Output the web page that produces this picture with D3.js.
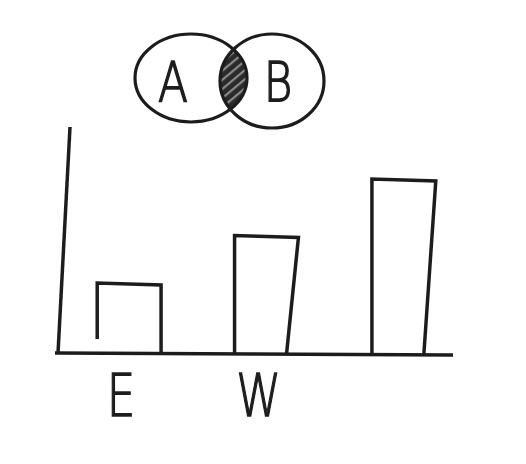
<!DOCTYPE html>
<html>
<head>
<meta charset="utf-8">
<script src="https://cdn.jsdelivr.net/npm/d3@7"></script>
<style>
  body { margin: 0; background: #fff; }
  svg { display: block; }
  .hand { font-family: "DejaVu Sans ExtraLight", "DejaVu Sans", sans-serif; font-weight: 300; }
</style>
</head>
<body>
<script>
// bar categories and heights (rough units)
const categories = ['E', 'W', ''];
const values = [3.1, 5.2, 7.7];
const yMax = 10;

// the little venn diagram above the bars
const sets = ['A', 'B'];

const width = 526;
const height = 464;
const ink = '#1e1e1e';

const svg = d3.select('body')
  .append('svg')
  .attr('width', width)
  .attr('height', height);

const defs = svg.append('defs');

// soft edge, like a scanned pen drawing
defs.append('filter')
  .attr('id', 'soft')
  .append('feGaussianBlur')
  .attr('stdDeviation', 0.7);

// hatching for the overlap
const pat = defs.append('pattern')
  .attr('id', 'hatch')
  .attr('patternUnits', 'userSpaceOnUse')
  .attr('width', 7)
  .attr('height', 7)
  .attr('patternTransform', 'rotate(-40)');
pat.append('rect').attr('width', 7).attr('height', 7).attr('fill', '#2a2a2a');
pat.append('rect').attr('width', 7).attr('height', 2.2).attr('fill', '#8a8a8a');

const g = svg.append('g').attr('filter', 'url(#soft)');

// scales
const x = d3.scaleBand()
  .domain(categories)
  .range([56, 477])
  .paddingInner(0.535)
  .paddingOuter(0.3);

const y = d3.scaleLinear()
  .domain([0, yMax])
  .range([353, 127]);

// venn
const vx = d3.scalePoint().domain(sets).range([191, 272]);
const ell = [{rx: 56, ry: 44, cy: 78}, {rx: 52, ry: 47, cy: 81}];

const clip = defs.append('clipPath').attr('id', 'clipA');
clip.append('ellipse')
  .attr('cx', vx('A')).attr('cy', ell[0].cy)
  .attr('rx', ell[0].rx).attr('ry', ell[0].ry);

g.append('ellipse')
  .attr('cx', vx('B')).attr('cy', ell[1].cy)
  .attr('rx', ell[1].rx).attr('ry', ell[1].ry)
  .attr('clip-path', 'url(#clipA)')
  .attr('fill', 'url(#hatch)');

g.selectAll('.set')
  .data(sets)
  .enter().append('ellipse')
  .attr('class', 'set')
  .attr('cx', d => vx(d))
  .attr('cy', (d, i) => ell[i].cy)
  .attr('rx', (d, i) => ell[i].rx)
  .attr('ry', (d, i) => ell[i].ry)
  .attr('fill', 'none')
  .attr('stroke', ink)
  .attr('stroke-width', 3.2);

g.selectAll('.setlabel')
  .data(sets)
  .enter().append('text')
  .attr('class', 'setlabel hand')
  .attr('transform', (d, i) => `translate(${vx(d) + (i ? 6 : -18)},101) scale(0.78,1)`)
  .attr('text-anchor', 'middle')
  .attr('font-size', 56)
  .attr('fill', ink)
  .attr('stroke', ink)
  .attr('stroke-width', 1.6)
  .text(d => d);

// axes, drawn by hand so they lean a bit
g.append('path')
  .attr('d', `M70,${y(yMax)}L58,${y(0)}`)
  .attr('stroke', ink)
  .attr('stroke-width', 3.5)
  .attr('fill', 'none');

g.append('path')
  .attr('d', `M55,${y(0)}L453,${y(0) + 2}`)
  .attr('stroke', ink)
  .attr('stroke-width', 3.5)
  .attr('fill', 'none');

// open-bottomed bars
g.selectAll('.bar')
  .data(values)
  .enter().append('path')
  .attr('class', 'bar')
  .attr('d', (v, i) => {
    const x0 = x(categories[i]);
    const x1 = x0 + x.bandwidth();
    const top = y(v);
    const foot = i === 0 ? y(0) - 14 : y(0);
    return `M${x0},${foot}L${x0},${top}L${x1},${top + 2}L${x1 - (i ? 12 : 0)},${y(0) + 2}`;
  })
  .attr('stroke', ink)
  .attr('stroke-width', 3.5)
  .attr('fill', 'none');

// category labels
g.selectAll('.cat')
  .data(categories)
  .enter().append('text')
  .attr('class', 'cat hand')
  .attr('transform', d => `translate(${x(d) + x.bandwidth() / 2 - 8},416) scale(0.78,1)`)
  .attr('text-anchor', 'middle')
  .attr('font-size', 58)
  .attr('fill', ink)
  .attr('stroke', ink)
  .attr('stroke-width', 1.4)
  .text(d => d);
</script>
</body>
</html>
